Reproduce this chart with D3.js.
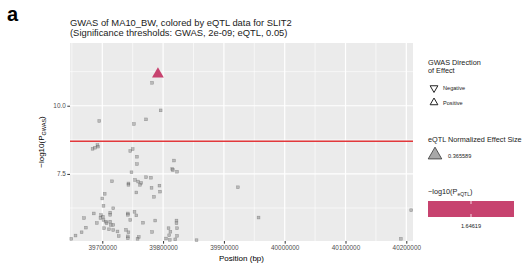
<!DOCTYPE html>
<html>
<head>
<meta charset="utf-8">
<style>
* { margin: 0; padding: 0; }
body { background: #fff; }
svg { display: block; font-family: "Liberation Sans", Arial, sans-serif; }
</style>
<script src="https://cdn.jsdelivr.net/npm/d3@7"></script>
</head>
<body>
<div id="chart"></div>
<script>

// GWAS points: position (bp) and -log10(P)
var gwasPos = [
	39782000, 39796000, 39772000, 39695000, 39752000, 39684000, 39688000, 39692000, 39693000, 39746000,
	39750000, 39757000, 39757000, 39818000, 39815000, 39816000, 39823000, 39748000, 39716000, 39754000,
	39759000, 39764000, 39762000, 39743000, 39743000, 39772000, 39780000, 39794000, 39795000, 39781000,
	39756000, 39785000, 39704000, 39700000, 39702000, 39718000, 39713000, 39686000, 39670000, 39691000,
	39673000, 39666000, 39656000, 39649000, 39698000, 39701000, 39697000, 39702000, 39706000, 39707000,
	39713000, 39714000, 39718000, 39742000, 39742000, 39746000, 39753000, 39756000, 39767000, 39787000,
	39711000, 39718000, 39725000, 39727000, 39739000, 39743000, 39742000, 39742000, 39760000, 39758000,
	39782000, 39809000, 39812000, 39810000, 39822000, 39822000, 39823000, 39823000, 39805000, 39811000,
	39820000, 39855000, 39923000, 39957000, 40191000, 40208000, 39713000, 39703000
];
var gwasLogP = [
	10.84, 9.83, 9.50, 9.44, 9.33, 8.42, 8.46, 8.56, 8.50, 8.34,
	8.41, 8.13, 7.86, 7.99, 7.68, 7.64, 7.58, 7.56, 7.23, 7.28,
	7.22, 7.17, 7.10, 7.15, 7.10, 7.38, 7.36, 7.07, 6.85, 6.99,
	6.82, 6.66, 6.77, 6.60, 6.33, 6.24, 6.08, 6.05, 5.88, 5.70,
	5.53, 5.36, 5.24, 5.12, 5.99, 5.93, 5.88, 5.81, 5.75, 5.69,
	5.75, 5.63, 5.63, 6.05, 6.00, 5.81, 6.11, 5.98, 5.71, 5.79,
	5.47, 5.44, 5.39, 5.22, 5.45, 5.36, 5.21, 5.14, 5.19, 5.12,
	5.37, 5.51, 5.38, 5.25, 5.79, 5.69, 5.51, 5.23, 5.13, 5.08,
	5.10, 5.07, 7.01, 5.90, 5.12, 6.17, 6.00, 5.51
];

// eQTL-coloured SNP
var eqtlPos = [ 39791500 ];
var eqtlLogP = [ 11.16 ];
var eqtlDir = [ 'Positive' ];

var gwasThreshold = 2e-9;
var xTicks = [ 39700000, 39800000, 39900000, 40000000, 40100000, 40200000 ];
var yTicks = [ 7.5, 10.0 ];
var yMinor = [ 6.25, 8.75, 11.25 ];
var xMinor = [ 39650000, 39750000, 39850000, 39950000, 40050000, 40150000 ];

var W = 532, H = 266;
var panel = { left: 70, right: 413, top: 43, bottom: 241 };

var svg = d3.select( '#chart' ).append( 'svg' )
	.attr( 'width', W )
	.attr( 'height', H );

var x = d3.scaleLinear().domain( [ 39646900, 40211000 ] ).range( [ panel.left, panel.right ] );
var y = d3.scaleLinear().domain( [ 5.04, 12.3 ] ).range( [ panel.bottom, panel.top ] );

// panel
svg.append( 'rect' )
	.attr( 'x', panel.left )
	.attr( 'y', panel.top )
	.attr( 'width', panel.right - panel.left )
	.attr( 'height', panel.bottom - panel.top )
	.attr( 'fill', '#ebebeb' );

var grid = svg.append( 'g' ).attr( 'stroke', '#fff' );
grid.selectAll( '.ymin' ).data( yMinor ).enter().append( 'line' )
	.attr( 'x1', panel.left ).attr( 'x2', panel.right )
	.attr( 'y1', function ( d ) { return y( d ); } ).attr( 'y2', function ( d ) { return y( d ); } )
	.attr( 'stroke-width', 0.6 );
grid.selectAll( '.xmin' ).data( xMinor ).enter().append( 'line' )
	.attr( 'y1', panel.top ).attr( 'y2', panel.bottom )
	.attr( 'x1', function ( d ) { return x( d ); } ).attr( 'x2', function ( d ) { return x( d ); } )
	.attr( 'stroke-width', 0.6 );
grid.selectAll( '.ymaj' ).data( yTicks ).enter().append( 'line' )
	.attr( 'x1', panel.left ).attr( 'x2', panel.right )
	.attr( 'y1', function ( d ) { return y( d ); } ).attr( 'y2', function ( d ) { return y( d ); } )
	.attr( 'stroke-width', 1.2 );
grid.selectAll( '.xmaj' ).data( xTicks ).enter().append( 'line' )
	.attr( 'y1', panel.top ).attr( 'y2', panel.bottom )
	.attr( 'x1', function ( d ) { return x( d ); } ).attr( 'x2', function ( d ) { return x( d ); } )
	.attr( 'stroke-width', 1.2 );

// gwas points
var pts = gwasPos.map( function ( p, i ) { return { pos: p, lp: gwasLogP[i] }; } );
svg.append( 'g' ).selectAll( 'rect' )
	.data( pts )
	.enter()
	.append( 'rect' )
	.attr( 'x', function ( d ) { return x( d.pos ) - 1.4; } )
	.attr( 'y', function ( d ) { return y( d.lp ) - 1.4; } )
	.attr( 'width', 2.8 )
	.attr( 'height', 2.8 )
	.attr( 'fill', '#8a8a8a' )
	.attr( 'fill-opacity', 0.5 )
	.attr( 'stroke', '#333' )
	.attr( 'stroke-opacity', 0.4 )
	.attr( 'stroke-width', 0.5 );

// threshold line
svg.append( 'line' )
	.attr( 'x1', panel.left ).attr( 'x2', panel.right )
	.attr( 'y1', y( -Math.log10( gwasThreshold ) ) ).attr( 'y2', y( -Math.log10( gwasThreshold ) ) )
	.attr( 'stroke', '#e2383b' )
	.attr( 'stroke-width', 1.4 );

// eqtl triangle
var tri = d3.symbol().type( d3.symbolTriangle ).size( 60 );
svg.append( 'g' ).selectAll( 'path' )
	.data( eqtlPos.map( function ( p, i ) { return { pos: p, lp: eqtlLogP[i], dir: eqtlDir[i] }; } ) )
	.enter()
	.append( 'path' )
	.attr( 'd', tri )
	.attr( 'transform', function ( d ) {
		return 'translate(' + x( d.pos ) + ',' + y( d.lp ) + ')' + ( d.dir === 'Negative' ? ' rotate(180)' : '' );
	} )
	.attr( 'fill', '#c7436f' );

// axes
var xAxis = svg.append( 'g' )
	.attr( 'transform', 'translate(0,' + panel.bottom + ')' )
	.call( d3.axisBottom( x ).tickValues( xTicks ).tickFormat( d3.format( 'd' ) ).tickSize( 2.7 ).tickPadding( 1.5 ) );
var yAxis = svg.append( 'g' )
	.attr( 'transform', 'translate(' + panel.left + ',0)' )
	.call( d3.axisLeft( y ).tickValues( yTicks ).tickFormat( d3.format( '.1f' ) ).tickSize( 2.7 ).tickPadding( 1.5 ) );
[ xAxis, yAxis ].forEach( function ( a ) {
	a.select( '.domain' ).remove();
	a.selectAll( 'line' ).attr( 'stroke', '#333' ).attr( 'stroke-width', 1 );
	a.selectAll( 'text' ).attr( 'fill', '#4d4d4d' ).style( 'font-size', '6.4px' ).style( 'font-family', '"Liberation Sans", Arial, sans-serif' );
} );

// axis titles
svg.append( 'text' )
	.attr( 'x', ( panel.left + panel.right ) / 2 )
	.attr( 'y', 261 )
	.attr( 'text-anchor', 'middle' )
	.attr( 'font-size', 8 )
	.text( 'Position (bp)' );

var yt = svg.append( 'text' )
	.attr( 'transform', 'translate(44,' + ( ( panel.top + panel.bottom ) / 2 ) + ') rotate(-90)' )
	.attr( 'text-anchor', 'middle' )
	.attr( 'font-size', 8 );
yt.append( 'tspan' ).text( '\u2212log10(P' );
yt.append( 'tspan' ).attr( 'font-size', 5.5 ).attr( 'dy', 1.8 ).text( 'GWAS' );
yt.append( 'tspan' ).attr( 'dy', -1.8 ).text( ')' );

// titles
svg.append( 'text' )
	.attr( 'x', 7 ).attr( 'y', 20.5 )
	.attr( 'font-size', 20 ).attr( 'font-weight', 'bold' )
	.text( 'a' );
svg.append( 'text' )
	.attr( 'x', panel.left ).attr( 'y', 25.5 )
	.attr( 'font-size', 9.4 ).attr( 'fill', '#222' )
	.text( 'GWAS of MA10_BW, colored by eQTL data for SLIT2' );
svg.append( 'text' )
	.attr( 'x', panel.left ).attr( 'y', 35.5 )
	.attr( 'font-size', 9.4 ).attr( 'fill', '#222' )
	.text( '(Significance thresholds: GWAS, ' + '2e-09' + '; eQTL, ' + '0.05' + ')' );

// legends
var lx = 428;
var leg = svg.append( 'g' ).attr( 'font-size', 7.3 ).attr( 'fill', '#222' );
leg.append( 'text' ).attr( 'x', lx ).attr( 'y', 65 ).text( 'GWAS Direction' );
leg.append( 'text' ).attr( 'x', lx ).attr( 'y', 73 ).text( 'of Effect' );

var dirs = [ 'Negative', 'Positive' ];
var dirY = d3.scalePoint().domain( dirs ).range( [ 88, 102.5 ] );
var small = d3.symbol().type( d3.symbolTriangle ).size( 26 );
dirs.forEach( function ( d ) {
	leg.append( 'path' )
		.attr( 'd', small )
		.attr( 'transform', 'translate(' + ( lx + 6 ) + ',' + dirY( d ) + ')' + ( d === 'Negative' ? ' rotate(180)' : '' ) )
		.attr( 'fill', 'none' )
		.attr( 'stroke', '#222' )
		.attr( 'stroke-width', 1 );
	leg.append( 'text' ).attr( 'x', lx + 15 ).attr( 'y', dirY( d ) + 2.2 ).attr( 'font-size', 5.6 ).text( d );
} );

var effectSizes = [ 0.365589 ];
leg.append( 'text' ).attr( 'x', lx ).attr( 'y', 141.5 ).text( 'eQTL Normalized Effect Size' );
effectSizes.forEach( function ( e ) {
	leg.append( 'path' )
		.attr( 'd', d3.symbol().type( d3.symbolTriangle ).size( 80 ) )
		.attr( 'transform', 'translate(' + ( lx + 7 ) + ',155)' )
		.attr( 'fill', '#a8a8a8' )
		.attr( 'stroke', '#333' )
		.attr( 'stroke-width', 0.8 );
	leg.append( 'text' ).attr( 'x', lx + 20 ).attr( 'y', 157.5 ).attr( 'font-size', 5.6 ).text( e );
} );

var eqtlBreaks = [ 1.64619 ];
var lt = leg.append( 'text' ).attr( 'x', lx ).attr( 'y', 194 );
lt.append( 'tspan' ).text( '\u2212log10(P' );
lt.append( 'tspan' ).attr( 'font-size', 5 ).attr( 'dy', 1.8 ).text( 'eQTL' );
lt.append( 'tspan' ).attr( 'dy', -1.8 ).text( ')' );

var cb = d3.scaleLinear().domain( [ 1.64619 - 1, 1.64619 + 1 ] ).range( [ lx, 514 ] );
leg.append( 'rect' )
	.attr( 'x', lx ).attr( 'y', 201 )
	.attr( 'width', 514 - lx ).attr( 'height', 16 )
	.attr( 'fill', '#c7436f' );
eqtlBreaks.forEach( function ( b ) {
	[ 201, 214 ].forEach( function ( yy ) {
		leg.append( 'line' )
			.attr( 'x1', cb( b ) ).attr( 'x2', cb( b ) )
			.attr( 'y1', yy ).attr( 'y2', yy + 3 )
			.attr( 'stroke', '#fff' ).attr( 'stroke-width', 0.8 );
	} );
	leg.append( 'text' ).attr( 'x', cb( b ) ).attr( 'y', 227.5 )
		.attr( 'text-anchor', 'middle' ).attr( 'font-size', 5.6 ).text( b );
} );

</script>
</body>
</html>
